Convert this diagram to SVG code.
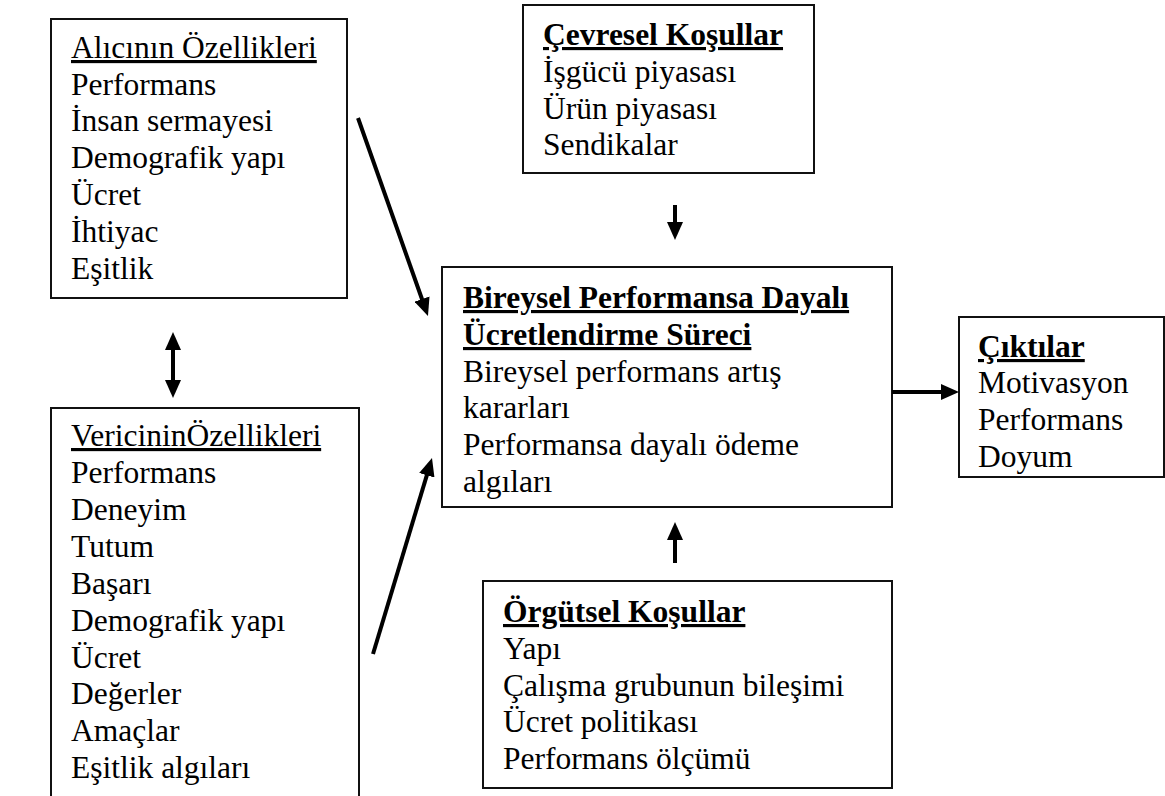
<svg xmlns="http://www.w3.org/2000/svg" width="1165" height="796" viewBox="0 0 1165 796">
<defs>
  <marker id="ah" viewBox="0 -8 18 16" refX="1" refY="0" markerWidth="18" markerHeight="16" markerUnits="userSpaceOnUse" orient="auto-start-reverse">
    <path d="M0,-8 L18,0 L0,8 z" fill="#000"/>
  </marker>
</defs>
<rect width="1165" height="796" fill="#fff"/>

<g id="alici">
  <rect x="51" y="19" width="296" height="279" fill="#fff" stroke="#111" stroke-width="2"/>
  <text font-family="Liberation Serif" font-size="31.5" text-decoration="underline" x="71" y="58">Alıcının Özellikleri</text>
  <text font-family="Liberation Serif" font-size="31.5" x="71" y="95">Performans</text>
  <text font-family="Liberation Serif" font-size="31.5" x="71" y="131">İnsan sermayesi</text>
  <text font-family="Liberation Serif" font-size="31.5" x="71" y="168">Demografik yapı</text>
  <text font-family="Liberation Serif" font-size="31.5" x="71" y="205">Ücret</text>
  <text font-family="Liberation Serif" font-size="31.5" x="71" y="242">İhtiyac</text>
  <text font-family="Liberation Serif" font-size="31.5" x="71" y="279">Eşitlik</text>
</g>

<g id="verici">
  <rect x="51" y="408" width="308" height="400" fill="#fff" stroke="#111" stroke-width="2"/>
  <text font-family="Liberation Serif" font-size="31.5" text-decoration="underline" x="71" y="446">VericininÖzellikleri</text>
  <text font-family="Liberation Serif" font-size="31.5" x="71" y="483">Performans</text>
  <text font-family="Liberation Serif" font-size="31.5" x="71" y="520">Deneyim</text>
  <text font-family="Liberation Serif" font-size="31.5" x="71" y="557">Tutum</text>
  <text font-family="Liberation Serif" font-size="31.5" x="71" y="594">Başarı</text>
  <text font-family="Liberation Serif" font-size="31.5" x="71" y="631">Demografik yapı</text>
  <text font-family="Liberation Serif" font-size="31.5" x="71" y="668">Ücret</text>
  <text font-family="Liberation Serif" font-size="31.5" x="71" y="704">Değerler</text>
  <text font-family="Liberation Serif" font-size="31.5" x="71" y="741">Amaçlar</text>
  <text font-family="Liberation Serif" font-size="31.5" x="71" y="778">Eşitlik algıları</text>
</g>

<g id="cevresel">
  <rect x="523" y="5" width="291" height="168" fill="#fff" stroke="#111" stroke-width="2"/>
  <text font-family="Liberation Serif" font-size="31.5" font-weight="bold" text-decoration="underline" x="543" y="45">Çevresel Koşullar</text>
  <text font-family="Liberation Serif" font-size="31.5" x="543" y="82">İşgücü piyasası</text>
  <text font-family="Liberation Serif" font-size="31.5" x="543" y="119">Ürün piyasası</text>
  <text font-family="Liberation Serif" font-size="31.5" x="543" y="155">Sendikalar</text>
</g>

<g id="surec">
  <rect x="442" y="267" width="450" height="240" fill="#fff" stroke="#111" stroke-width="2"/>
  <text font-family="Liberation Serif" font-size="31.5" font-weight="bold" text-decoration="underline" x="463" y="308">Bireysel Performansa Dayalı</text>
  <text font-family="Liberation Serif" font-size="31.5" font-weight="bold" text-decoration="underline" x="463" y="345">Ücretlendirme Süreci</text>
  <text font-family="Liberation Serif" font-size="31.5" x="463" y="382">Bireysel performans artış</text>
  <text font-family="Liberation Serif" font-size="31.5" x="463" y="418">kararları</text>
  <text font-family="Liberation Serif" font-size="31.5" x="463" y="455">Performansa dayalı ödeme</text>
  <text font-family="Liberation Serif" font-size="31.5" x="463" y="492">algıları</text>
</g>

<g id="ciktilar">
  <rect x="959" y="317" width="205" height="160" fill="#fff" stroke="#111" stroke-width="2"/>
  <text font-family="Liberation Serif" font-size="31.5" font-weight="bold" text-decoration="underline" x="978" y="357">Çıktılar</text>
  <text font-family="Liberation Serif" font-size="31.5" x="978" y="393">Motivasyon</text>
  <text font-family="Liberation Serif" font-size="31.5" x="978" y="430">Performans</text>
  <text font-family="Liberation Serif" font-size="31.5" x="978" y="467">Doyum</text>
</g>

<g id="orgutsel">
  <rect x="483" y="581" width="409" height="207" fill="#fff" stroke="#111" stroke-width="2"/>
  <text font-family="Liberation Serif" font-size="31.5" font-weight="bold" text-decoration="underline" x="503" y="622">Örgütsel Koşullar</text>
  <text font-family="Liberation Serif" font-size="31.5" x="503" y="659">Yapı</text>
  <text font-family="Liberation Serif" font-size="31.5" x="503" y="696">Çalışma grubunun bileşimi</text>
  <text font-family="Liberation Serif" font-size="31.5" x="503" y="732">Ücret politikası</text>
  <text font-family="Liberation Serif" font-size="31.5" x="503" y="769">Performans ölçümü</text>
</g>

<g id="connectors" stroke="#000" stroke-width="4" fill="none">
  <line x1="358" y1="118" x2="422.3" y2="300" marker-end="url(#ah)"/>
  <line x1="373" y1="654" x2="427.1" y2="474.3" marker-end="url(#ah)"/>
  <line x1="675" y1="205" x2="675" y2="223" marker-end="url(#ah)"/>
  <line x1="675" y1="563" x2="675" y2="539" marker-end="url(#ah)"/>
  <line x1="892" y1="392" x2="942" y2="392" marker-end="url(#ah)"/>
  <line x1="173" y1="349" x2="173" y2="381" marker-start="url(#ah)" marker-end="url(#ah)"/>
</g>
</svg>
